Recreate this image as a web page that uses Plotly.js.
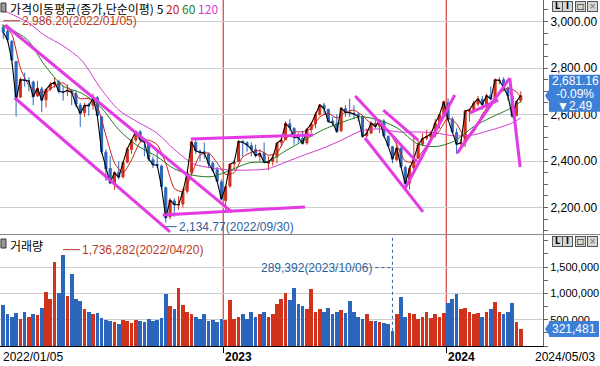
<!DOCTYPE html>
<html><head><meta charset="utf-8">
<script src="https://cdn.plot.ly/plotly-3.0.1.min.js"></script>
<style>html,body{margin:0;padding:0;background:#fff;}#chart{width:600px;height:366px;}</style>
</head><body><div id="chart"></div>
<script>
// ---- weekly data (week ending Friday) ----
const dates = [
'2022-01-07','2022-01-14','2022-01-21','2022-01-28','2022-02-04','2022-02-11','2022-02-18','2022-02-25','2022-03-04','2022-03-11','2022-03-18','2022-03-25','2022-04-01','2022-04-08','2022-04-15','2022-04-22','2022-04-29','2022-05-06','2022-05-13','2022-05-20','2022-05-27','2022-06-03','2022-06-10','2022-06-17','2022-06-24','2022-07-01','2022-07-08','2022-07-15','2022-07-22','2022-07-29','2022-08-05','2022-08-12','2022-08-19','2022-08-26','2022-09-02','2022-09-09','2022-09-16','2022-09-23','2022-09-30','2022-10-07','2022-10-14','2022-10-21','2022-10-28','2022-11-04','2022-11-11','2022-11-18','2022-11-25','2022-12-02','2022-12-09','2022-12-16','2022-12-23','2022-12-30',
'2023-01-06','2023-01-13','2023-01-20','2023-01-27','2023-02-03','2023-02-10','2023-02-17','2023-02-24','2023-03-03','2023-03-10','2023-03-17','2023-03-24','2023-03-31','2023-04-07','2023-04-14','2023-04-21','2023-04-28','2023-05-05','2023-05-12','2023-05-19','2023-05-26','2023-06-02','2023-06-09','2023-06-16','2023-06-23','2023-06-30','2023-07-07','2023-07-14','2023-07-21','2023-07-28','2023-08-04','2023-08-11','2023-08-18','2023-08-25','2023-09-01','2023-09-08','2023-09-15','2023-09-22','2023-09-29','2023-10-06','2023-10-13','2023-10-20','2023-10-27','2023-11-03','2023-11-10','2023-11-17','2023-11-24','2023-12-01','2023-12-08','2023-12-15','2023-12-22','2023-12-29',
'2024-01-05','2024-01-12','2024-01-19','2024-01-26','2024-02-02','2024-02-09','2024-02-16','2024-02-23','2024-03-01','2024-03-08','2024-03-15','2024-03-22','2024-03-29','2024-04-05','2024-04-12','2024-04-19','2024-04-26','2024-05-03'];

const open = [2975,2957,2915,2828,2675,2752,2744,2740,2680,2710,2663,2710,2730,2742,2698,2698,2702,2690,2640,2608,2642,2640,2672,2590,2438,2368,2300,2352,2332,2395,2450,2490,2525,2490,2478,2405,2386,2378,2285,2160,2228,2210,2215,2270,2350,2480,2442,2440,2430,2390,2362,2310,
2230,2292,2388,2398,2485,2478,2466,2450,2420,2434,2390,2398,2418,2480,2492,2560,2540,2503,2498,2478,2535,2560,2600,2640,2622,2572,2562,2530,2625,2610,2605,2600,2590,2508,2520,2560,2550,2572,2505,2462,2405,2455,2372,2305,2370,2412,2472,2498,2502,2518,2565,2600,
2650,2580,2522,2474,2480,2612,2622,2645,2665,2640,2683,2665,2745,2750,2712,2678,2595,2660];

const high = [2986.2,2970,2920,2830,2760,2780,2760,2745,2745,2720,2712,2740,2760,2750,2725,2730,2710,2700,2650,2650,2650,2690,2680,2595,2450,2420,2355,2400,2400,2460,2495,2530,2533,2500,2480,2420,2450,2385,2290,2240,2240,2250,2280,2355,2485,2500,2450,2480,2435,2400,2375,2320,
2292,2390,2405,2490,2490,2485,2480,2470,2450,2480,2420,2430,2480,2500,2570,2580,2545,2520,2530,2540,2570,2610,2645,2650,2625,2590,2600,2630,2640,2668,2640,2610,2595,2540,2570,2580,2580,2580,2510,2465,2480,2460,2380,2380,2510,2490,2520,2535,2530,2580,2600,2660,
2670,2590,2540,2495,2620,2625,2660,2680,2680,2690,2720,2755,2760,2760,2720,2680,2660,2700];

const low = [2925,2910,2830,2591,2670,2720,2700,2640,2675,2610,2630,2700,2715,2690,2660,2680,2640,2630,2546,2590,2595,2620,2590,2430,2314,2300,2276,2320,2325,2390,2430,2480,2480,2420,2400,2370,2370,2280,2134.77,2150,2160,2190,2200,2260,2340,2430,2400,2410,2370,2350,2310,2230,
2180,2285,2360,2395,2420,2440,2420,2415,2400,2390,2360,2380,2390,2460,2490,2530,2470,2480,2470,2470,2520,2540,2595,2600,2565,2550,2520,2525,2590,2590,2580,2570,2500,2500,2515,2540,2520,2500,2460,2390,2400,2370,2290,2277,2360,2410,2465,2490,2490,2500,2540,2595,
2570,2520,2430,2460,2460,2570,2610,2635,2620,2630,2660,2650,2730,2700,2660,2584,2595,2650];

const close = [2954,2921,2834,2663,2750,2747,2744,2676,2713,2661,2707,2729,2739,2700,2696,2704,2695,2644,2604,2639,2638,2670,2595,2440,2366,2305,2350,2330,2393,2452,2490,2527,2492,2481,2409,2384,2382,2290,2155,2232,2212,2213,2268,2348,2483,2444,2437,2434,2389,2360,2313,2236,
2289,2386,2395,2484,2480,2469,2451,2423,2432,2394,2395,2415,2477,2490,2561,2544,2501,2500,2475,2537,2559,2601,2641,2625,2570,2564,2526,2628,2609,2608,2602,2591,2505,2519,2563,2548,2575,2508,2465,2408,2456,2375,2302,2368,2409,2469,2496,2505,2517,2563,2599,2655,
2578,2525,2472,2478,2615,2620,2648,2667,2642,2681,2667,2749,2747,2715,2681,2592,2656,2681.16];

const volume = [780000,600000,560000,620000,520000,640000,560000,600000,580000,720000,1030000,900000,1600000,1000000,1736282,950000,1360000,900000,850000,700000,650000,600000,620000,540000,500000,480000,450000,420000,500000,470000,430000,500000,480000,450000,520000,470000,500000,540000,980000,760000,700000,1100000,780000,650000,600000,560000,520000,600000,480000,500000,460000,520000,
500000,880000,520000,560000,600000,520000,640000,560000,600000,640000,560000,600000,800000,900000,1000000,880000,1100000,800000,760000,700000,1080000,640000,700000,650000,720000,600000,640000,680000,620000,850000,640000,560000,520000,600000,480000,470000,450000,440000,420000,289392,600000,940000,560000,620000,600000,520000,560000,640000,540000,600000,560000,620000,
820000,900000,980000,700000,730000,650000,600000,620000,560000,640000,700000,830000,650000,600000,640000,810000,460000,321481];

// moving averages
const ma20Dates = ['2022-01-07','2022-01-21','2022-02-04','2022-02-18','2022-03-04','2022-03-18','2022-04-01','2022-04-15','2022-04-29','2022-05-13','2022-05-27','2022-06-10','2022-06-24','2022-07-08','2022-07-22','2022-08-05','2022-08-19','2022-09-02','2022-09-16','2022-09-30','2022-10-14','2022-10-28','2022-11-11','2022-11-25','2022-12-09','2022-12-23',
'2023-01-06','2023-01-20','2023-02-03','2023-02-17','2023-03-03','2023-03-17','2023-03-31','2023-04-14','2023-04-28','2023-05-12','2023-05-26','2023-06-09','2023-06-23','2023-07-07','2023-07-21','2023-08-04','2023-08-18','2023-09-01','2023-09-15','2023-09-29','2023-10-13','2023-10-27','2023-11-10','2023-11-24','2023-12-08','2023-12-22',
'2024-01-05','2024-01-19','2024-02-02','2024-02-16','2024-03-01','2024-03-15','2024-03-29','2024-04-12','2024-04-26','2024-05-03'];
const ma20 = [2985,2945,2800,2725,2697,2698,2722,2736,2698,2668,2668,2632,2510,2392,2349,2405,2480,2490,2470,2390,2282,2268,2340,2425,2435,2392,
2342,2350,2417,2437,2445,2425,2435,2495,2525,2525,2540,2589,2605,2585,2610,2619,2595,2562,2556,2530,2470,2400,2395,2440,2490,2530,
2585,2560,2500,2525,2600,2652,2690,2715,2698,2675];

const maMonthDates = ['2022-01-05','2022-02-15','2022-03-15','2022-04-15','2022-05-15','2022-06-15','2022-07-15','2022-08-15','2022-09-15','2022-10-15','2022-11-15','2022-12-15',
'2023-01-15','2023-02-15','2023-03-15','2023-04-15','2023-05-15','2023-06-15','2023-07-15','2023-08-15','2023-09-15','2023-10-15','2023-11-15','2023-12-15',
'2024-01-15','2024-02-15','2024-03-15','2024-04-15','2024-05-03'];
const ma60 = [2985,2923,2815,2722,2692,2633,2535,2465,2420,2365,2338,2333,2362,2393,2398,2445,2490,2535,2566,2590,2575,2540,2475,2462,2485,2546,2587,2625,2655];
const ma120 = [3050,2998,2942,2895,2834,2714,2619,2568,2521,2447,2387,2370,2361,2361,2366,2396,2426,2456,2490,2529,2538,2525,2525,2521,2508,2512,2533,2559,2585];

// hand-drawn trend lines (start / end)
const trendStartDates = ['2022-01-10','2022-01-26','2022-09-25','2022-11-10','2023-08-06','2023-09-21','2023-08-22','2023-10-27','2024-01-20','2024-02-10','2024-04-15'];
const trendStartPrices = [2985,2671,2168,2495,2680,2619,2499,2284,2434,2607,2757];
const trendEndDates = ['2023-01-16','2022-10-07','2023-05-16','2023-05-29','2023-11-15','2023-11-17','2023-11-25','2024-01-16','2024-04-15','2024-03-27','2024-05-02'];
const trendEndPrices = [2181,2095,2202,2512,2396,2490,2181,2684,2757,2662,2374];

const priceTicks = [2200,2400,2600,2800,3000];
const volumeTicks = [500000,1000000,1500000];
const yearStarts = ['2023-01-02','2024-01-02'];
const yearLabels = ['2023','2024'];
const startLabel = '2022/01/05';
const highLabelDate = '2022/01/05';
const lowLabelDate = '2022/09/30';
const volMaxLabelDate = '2022/04/20';
const volMinLabelDate = '2023/10/06';
const lastChangePct = '-0.09%';
const lastChange = '▼2.49';
const legendTitle = '가격이동평균(종가,단순이평)';
const maPeriods = ['5','20','60','120'];
const volumeTitle = '거래량';

// ---- drawing ----
const UP = '#d0321c', DOWN = '#2b66bc';
const MA_COLORS = ['#000000','#c81e1e','#1f7f1f','#d23cd2'];
const TREND = '#e33ae3';
const fmt = (v, d) => v.toLocaleString('en-US', {minimumFractionDigits:d, maximumFractionDigits:d});

const traces = [];
traces.push({type:'candlestick', x:dates, open:open, high:high, low:low, close:close, xaxis:'x', yaxis:'y',
  increasing:{line:{color:UP,width:1}, fillcolor:UP}, decreasing:{line:{color:DOWN,width:1}, fillcolor:DOWN},
  whiskerwidth:0, hoverinfo:'skip'});
traces.push({type:'scatter', mode:'lines', x:maMonthDates, y:ma120, xaxis:'x', yaxis:'y', line:{color:MA_COLORS[3], width:1, shape:'spline', smoothing:0.8}, hoverinfo:'skip'});
traces.push({type:'scatter', mode:'lines', x:maMonthDates, y:ma60, xaxis:'x', yaxis:'y', line:{color:MA_COLORS[2], width:1, shape:'spline', smoothing:0.8}, hoverinfo:'skip'});
traces.push({type:'scatter', mode:'lines', x:ma20Dates, y:ma20, xaxis:'x', yaxis:'y', line:{color:MA_COLORS[1], width:1, shape:'spline', smoothing:0.6}, hoverinfo:'skip'});
traces.push({type:'scatter', mode:'lines', x:dates, y:close, xaxis:'x', yaxis:'y', line:{color:MA_COLORS[0], width:1.1}, hoverinfo:'skip'});
for (let i = 0; i < trendStartDates.length; i++) {
  traces.push({type:'scatter', mode:'lines', x:[trendStartDates[i], trendEndDates[i]], y:[trendStartPrices[i], trendEndPrices[i]],
    xaxis:'x', yaxis:'y', line:{color:TREND, width:3}, hoverinfo:'skip'});
}
const volColors = close.map((c, i) => c >= open[i] ? UP : DOWN);
traces.push({type:'bar', x:dates, y:volume, xaxis:'x', yaxis:'y2', marker:{color:volColors, line:{width:0}}, width:6*86400000, hoverinfo:'skip'});

// extremes
const hiIdx = high.indexOf(Math.max(...high));
const loIdx = low.indexOf(Math.min(...low));
const vMaxIdx = volume.indexOf(Math.max(...volume));
const vMinIdx = volume.indexOf(Math.min(...volume));
const last = close.length - 1;
const VOLTOP = 2110000;

const shapes = [];
yearStarts.forEach(d => shapes.push({type:'line', xref:'x', yref:'paper', x0:d, x1:d, y0:0, y1:1, line:{color:'#d01818', width:1}, layer:'between'}));
shapes.push({type:'line', xref:'paper', yref:'paper', x0:0, x1:1.105, y0:0.3222, y1:0.3222, line:{color:'#8a8a8a', width:1}});
// volume-min leader (dashed)
shapes.push({type:'line', xref:'x', yref:'y2', x0:dates[vMinIdx], x1:dates[vMinIdx], y0:volume[vMinIdx], y1:VOLTOP, line:{color:'#2d5f9e', width:1, dash:'dot'}});
shapes.push({type:'line', xref:'x', xsizemode:'pixel', xanchor:dates[vMinIdx], x0:-17, x1:0, yref:'y2', y0:1490000, y1:1490000, line:{color:'#2d5f9e', width:1, dash:'dot'}});
// last value boxes
shapes.push({type:'path', xref:'paper', xsizemode:'pixel', xanchor:1, yref:'y', ysizemode:'pixel', yanchor:close[last],
  path:'M 2 0 L 6 6 L 6 21 L 57 21 L 57 -16 L 6 -16 L 6 -6 Z', fillcolor:'#3d80d8', line:{width:0}});
shapes.push({type:'path', xref:'paper', xsizemode:'pixel', xanchor:1, yref:'y2', ysizemode:'pixel', yanchor:volume[last],
  path:'M 2 0 L 6 6 L 6 8 L 56 8 L 56 -8 L 6 -8 L 6 -6 Z', fillcolor:'#3d80d8', line:{width:0}});
// panel icons
[[0.9653,0.9913],[0.2832,0.3092]].forEach(([a,b]) => shapes.push({type:'rect', xref:'paper', yref:'paper', x0:0.0018, x1:0.011, y0:a, y1:b, fillcolor:'#9a9a9a', line:{color:'#333', width:1}}));

const NUMFONT = 'Liberation Sans, Arial, sans-serif';
const KFONT = 'Noto Sans CJK KR, sans-serif';
const ann = [];
ann.push({xref:'paper', yref:'paper', x:0.0147, y:1, xanchor:'left', yanchor:'top', yshift:2, showarrow:false,
  text: legendTitle + ' ' + maPeriods.map((p,i)=>'<span style="color:'+MA_COLORS[i]+'">'+p+'</span>').join(' '),
  font:{family:KFONT, size:12, color:'#000'}});
ann.push({xref:'paper', yref:'paper', x:0.0147, y:0.3179, xanchor:'left', yanchor:'top', yshift:1, showarrow:false,
  text: volumeTitle, font:{family:KFONT, size:12, color:'#000'}});
ann.push({xref:'x', yref:'y', x:dates[hiIdx], y:high[hiIdx], yshift:4, ax:17, ay:0, xanchor:'left', showarrow:true, arrowhead:0, arrowwidth:1, arrowcolor:'#b83a26',
  text: fmt(high[hiIdx],2)+'('+highLabelDate+')', font:{family:NUMFONT, size:12, color:'#b83a26'}});
ann.push({xref:'x', yref:'y', x:dates[loIdx], y:low[loIdx], yshift:-4, ax:11, ay:0, xanchor:'left', showarrow:true, arrowhead:0, arrowwidth:1, arrowcolor:'#2d5f9e',
  text: fmt(low[loIdx],2)+'('+lowLabelDate+')', font:{family:NUMFONT, size:12, color:'#2d5f9e'}});
ann.push({xref:'x', yref:'y2', x:dates[vMaxIdx], y:volume[vMaxIdx], yshift:5, ax:17, ay:0, xanchor:'left', showarrow:true, arrowhead:0, arrowwidth:1, arrowcolor:'#b83a26',
  text: fmt(volume[vMaxIdx],0)+'('+volMaxLabelDate+')', font:{family:NUMFONT, size:12, color:'#b83a26'}});
ann.push({xref:'x', yref:'y2', x:dates[vMinIdx], y:1490000, xshift:-18, xanchor:'right', showarrow:false,
  text: fmt(volume[vMinIdx],0)+'('+volMinLabelDate+')', font:{family:NUMFONT, size:12, color:'#2d5f9e'}});
// x labels
ann.push({xref:'paper', yref:'paper', x:0, y:0, xshift:1, yshift:-2, xanchor:'left', yanchor:'top', showarrow:false, text:startLabel, font:{family:NUMFONT, size:12, color:'#000'}});
yearStarts.forEach((d,i) => ann.push({xref:'x', yref:'paper', x:d, y:0, xshift:0, yshift:-2, xanchor:'left', yanchor:'top', showarrow:false, text:'<b>'+yearLabels[i]+'</b>', font:{family:NUMFONT, size:12, color:'#000'}}));
ann.push({xref:'paper', yref:'paper', x:1, y:0, xshift:54, yshift:-2, xanchor:'right', yanchor:'top', showarrow:false, text:dates[last].replace(/-/g,'/'), font:{family:NUMFONT, size:12, color:'#000'}});
// last value texts
[[fmt(close[last],2),15],[lastChangePct,2],[lastChange,-10]].forEach(([t,s]) => ann.push({xref:'paper', yref:'y', x:1, xshift:32, y:close[last], yshift:s, xanchor:'center', showarrow:false, text:t, font:{family:NUMFONT, size:12, color:'#fff'}}));
ann.push({xref:'paper', yref:'y2', x:1, xshift:31, y:volume[last], xanchor:'center', showarrow:false, text:fmt(volume[last],0), font:{family:NUMFONT, size:12, color:'#fff'}});
// panel buttons
const btns = ['L','I','□','×'];
const btnX = [1.0258,1.0460,1.0690,1.0912];
[0.9798,0.3006].forEach(py => btns.forEach((b,i) => ann.push({xref:'paper', yref:'paper', x:btnX[i], y:py, xanchor:'center', yanchor:'middle', showarrow:false,
  text:'<b>'+b+'</b>', width:9, height:9, borderpad:0, bgcolor:'#d6d6d6', bordercolor:'#555', borderwidth:1, font:{family:'DejaVu Sans', size:8, color: i===3?'#888':'#000'}})));

const layout = {
  width:600, height:366, margin:{l:0, r:57, t:0, b:20, pad:0},
  paper_bgcolor:'#ffffff', plot_bgcolor:'#ffffff', showlegend:false, hovermode:false, bargap:0,
  font:{family:NUMFONT, size:12, color:'#000'},
  xaxis:{type:'date', range:['2022-01-01 16:00','2024-06-08 10:00'], anchor:'y2', showgrid:false, zeroline:false,
    showline:true, linecolor:'#000', linewidth:1, ticks:'outside', tickvals:yearStarts, ticklen:6, tickcolor:'#000',
    showticklabels:false, rangeslider:{visible:false}, fixedrange:true},
  yaxis:{domain:[0.3237,1], range:[2086,3092.5], side:'right', anchor:'x', showline:true, linecolor:'#666', linewidth:1,
    ticks:'outside', ticklen:4, tickcolor:'#666', tickvals:priceTicks, tickformat:',.2f', showgrid:true, gridcolor:'#cdcdcd',
    zeroline:false, automargin:false, fixedrange:true, tickfont:{family:NUMFONT, size:12, color:'#000'},
    minor:{tickmode:'linear', tick0:0, dtick:50, ticks:'outside', ticklen:4, tickcolor:'#666', showgrid:false}},
  yaxis2:{domain:[0,0.3208], range:[0,VOLTOP], side:'right', anchor:'x', showline:true, linecolor:'#666', linewidth:1,
    ticks:'outside', ticklen:4, tickcolor:'#666', tickvals:volumeTicks, tickformat:',d', showgrid:true, gridcolor:'#cdcdcd',
    zeroline:false, automargin:false, fixedrange:true, tickfont:{family:NUMFONT, size:11, color:'#000'},
    minor:{tickmode:'linear', tick0:0, dtick:250000, ticks:'outside', ticklen:4, tickcolor:'#666', showgrid:false}},
  shapes:shapes, annotations:ann
};
Plotly.newPlot('chart', traces, layout, {staticPlot:true, displayModeBar:false});
</script></body></html>
